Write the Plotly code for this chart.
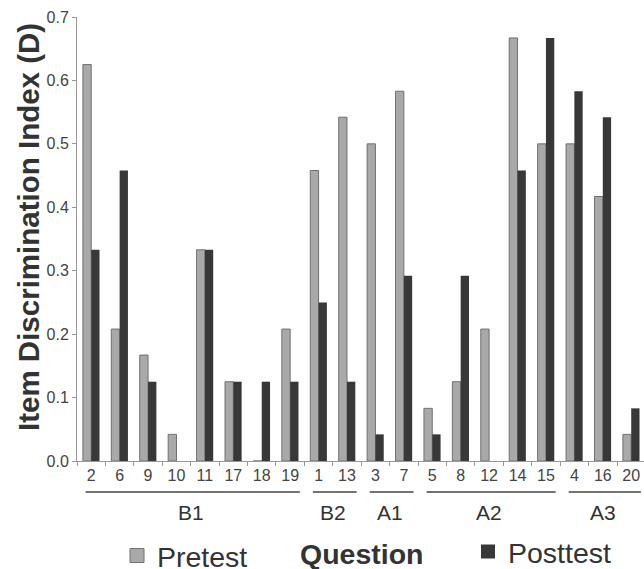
import plotly.graph_objects as go

questions = ["2", "6", "9", "10", "11", "17", "18", "19", "1", "13",
             "3", "7", "5", "8", "12", "14", "15", "4", "16", "20"]
pretest = [0.625, 0.208, 0.167, 0.042, 0.333, 0.125, 0.0, 0.208, 0.458, 0.542,
           0.500, 0.583, 0.083, 0.125, 0.208, 0.667, 0.500, 0.500, 0.417, 0.042]
posttest = [0.333, 0.458, 0.125, 0.0, 0.333, 0.125, 0.125, 0.125, 0.250, 0.125,
            0.042, 0.292, 0.042, 0.292, 0.0, 0.458, 0.667, 0.583, 0.542, 0.083]
group_names = ["B1", "B2", "A1", "A2", "A3"]
group_first = ["2", "1", "3", "5", "4"]
group_last = ["19", "13", "7", "15", "20"]

FONT = "Liberation Sans, Arial, sans-serif"
PRE_COLOR = "#a9a9ac"
PRE_EDGE = "#707070"
POST_COLOR = "#383838"

fig = go.Figure()
fig.add_trace(go.Bar(name="Pretest", x=questions, y=pretest, showlegend=False,
                     marker=dict(color=PRE_COLOR, line=dict(color=PRE_EDGE, width=1))))
fig.add_trace(go.Bar(name="Posttest", x=questions, y=posttest, showlegend=False,
                     marker=dict(color=POST_COLOR, line=dict(width=0))))
# legend entries (no data points) with larger square swatches
fig.add_trace(go.Scatter(name="Pretest", x=[None], y=[None], mode="markers",
                         legend="legend",
                         marker=dict(symbol="square", size=14, color=PRE_COLOR,
                                     line=dict(color=PRE_EDGE, width=1))))
fig.add_trace(go.Scatter(name="Posttest", x=[None], y=[None], mode="markers",
                         legend="legend2",
                         marker=dict(symbol="square", size=14, color=POST_COLOR,
                                     line=dict(width=0))))

# plot area in pixels: x from 77 to 644, y from 17 (0.7) to 461 (0.0)
plot_h = 461 - 17
plot_w = 644 - 77


def px_x(px):
    return (px - 77) / plot_w


def px_y(py):
    return (461 - py) / plot_h


for name, a, b in zip(group_names, group_first, group_last):
    i0 = questions.index(a)
    i1 = questions.index(b)
    fig.add_shape(type="line", xref="x", yref="paper",
                  x0=i0 - 0.5 + 0.3, x1=i1 + 0.5 - 0.16,
                  y0=px_y(492), y1=px_y(492),
                  line=dict(color="#444444", width=1.5))
    fig.add_annotation(xref="x", yref="paper", x=(i0 + i1) / 2,
                       y=px_y(512), text=name, showarrow=False,
                       font=dict(size=21, color="#333333", family=FONT),
                       xanchor="center", yanchor="middle")

fig.add_annotation(xref="paper", yref="paper", x=px_x(362), y=px_y(554),
                   text="<b>Question</b>", showarrow=False,
                   font=dict(size=28.5, color="#333333", family=FONT),
                   xanchor="center", yanchor="middle")

fig.add_annotation(xref="paper", yref="paper", x=px_x(28), y=px_y(227),
                   text="<b>Item Discrimination Index (D)</b>", showarrow=False,
                   textangle=-90,
                   font=dict(size=29.5, color="#333333", family=FONT),
                   xanchor="center", yanchor="middle")

leg_common = dict(orientation="h", xanchor="left", yanchor="middle",
                  font=dict(size=28.5, color="#333333", family=FONT),
                  bgcolor="rgba(0,0,0,0)", borderwidth=0)

fig.update_layout(
    width=644, height=569,
    margin=dict(l=77, r=0, t=17, b=108, autoexpand=False),
    paper_bgcolor="white", plot_bgcolor="white",
    font=dict(family=FONT, color="#444444"),
    barmode="group", bargap=0.415, bargroupgap=0,
    showlegend=True,
    legend=dict(x=px_x(117), y=px_y(556), **leg_common),
    legend2=dict(x=px_x(468), y=px_y(552), **leg_common),
    xaxis=dict(type="category", range=[-0.5, 19.45], tickson="boundaries",
               ticks="outside", ticklen=4, tickcolor="#999999",
               showline=True, linecolor="#999999", linewidth=1, automargin=False,
               showgrid=False, tickfont=dict(size=16, color="#444444", family=FONT)),
    yaxis=dict(range=[0, 0.7], dtick=0.1, tickformat=".1f",
               ticks="outside", ticklen=4, tickcolor="#999999", automargin=False,
               showline=True, linecolor="#999999", linewidth=1,
               showgrid=False, zeroline=False,
               tickfont=dict(size=16, color="#444444", family=FONT)),
)

fig.write_html("out.html", config={"displayModeBar": False},
               post_script="document.body.style.margin='0';document.body.style.overflow='hidden';")
